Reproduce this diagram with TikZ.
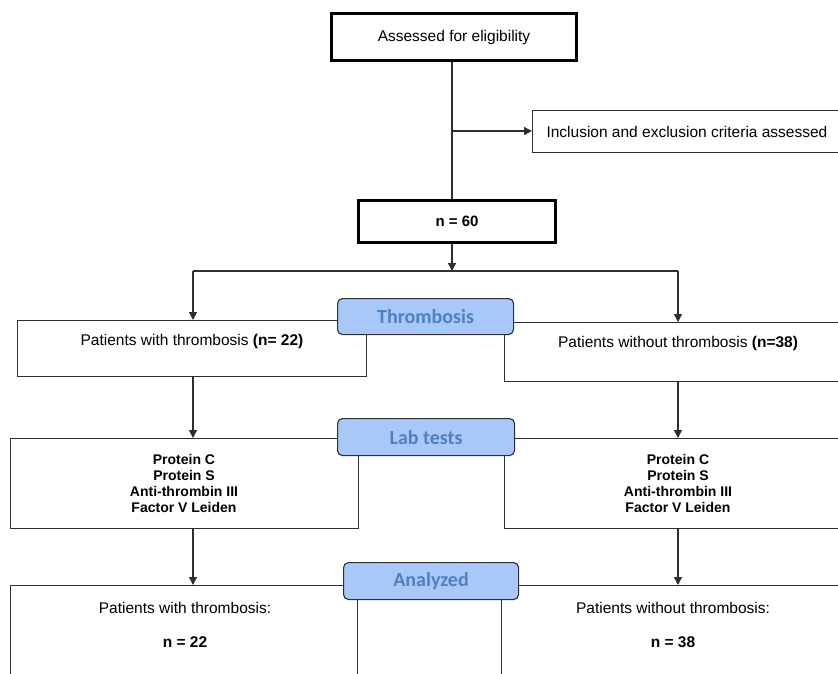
\documentclass[tikz,border=0pt]{standalone}
\usepackage{fontspec}
\setmainfont{Liberation Sans}
\newfontfamily\tagfont{Carlito}
\usetikzlibrary{arrows.meta}

\definecolor{tagfill}{HTML}{A9C8FA}
\definecolor{tagtext}{HTML}{4F81BD}
\definecolor{edge}{HTML}{2E2E2E}

\begin{document}
\begin{tikzpicture}[x=1pt, y=-1pt,
  box/.style={draw=edge, line width=1.3pt, fill=white, inner sep=0pt, anchor=north west},
  heavybox/.style={box, draw=black, line width=3pt},
  tag/.style={draw=edge, line width=1.1pt, rounded corners=5pt, fill=tagfill, text=tagtext,
    font=\tagfont\bfseries\fontsize{20}{24}\selectfont, inner sep=0pt, anchor=north west},
  txt/.style={font=\fontsize{15.5}{18}\selectfont, align=center},
  tests/.style={font=\bfseries\fontsize{14}{16}\selectfont, align=center},
  link/.style={draw=edge, line width=1.3pt},
  arr/.style={link, -{Triangle[length=8pt,width=8pt]}}]

\clip (0,0) rectangle (838,673);

% boxes
\node[heavybox, minimum width=245, minimum height=47] (elig) at (330,12) {};
\node[box, minimum width=340, minimum height=42] (crit) at (532,110) {};
\node[heavybox, minimum width=197, minimum height=42] (n60) at (357,199) {};

\node[box, minimum width=349, minimum height=56] (thrL) at (17,320) {};
\node[box, minimum width=400, minimum height=59] (thrR) at (504,322) {};

\node[box, minimum width=348, minimum height=90] (labL) at (10,438) {};
\node[box, minimum width=400, minimum height=90] (labR) at (504,438) {};

\node[box, minimum width=347, minimum height=120] (resL) at (10,585) {};
\node[box, minimum width=400, minimum height=120] (resR) at (501,585) {};

% texts
\node[txt] (eligtxt) at (elig.center) {Assessed for eligibility};
\node[txt, anchor=west] (crittxt) at ([xshift=11pt]crit.west) {Inclusion and exclusion criteria assessed};
\node[txt, font=\bfseries\fontsize{15}{18}\selectfont] (n60txt) at (n60.center) {n = 60};

\node[txt] (thrLtxt) at (192,341) {Patients with thrombosis \textbf{(n= 22)}};
\node[txt] (thrRtxt) at (678,343) {Patients without thrombosis \textbf{(n=38)}};

\node[tests] (labLtxt) at (184,483) {Protein C\\Protein S\\Anti-thrombin III\\Factor V Leiden};
\node[tests] (labRtxt) at (678,483) {Protein C\\Protein S\\Anti-thrombin III\\Factor V Leiden};

\node[txt] (resLtxt) at (185,625) {Patients with thrombosis:\\[16pt]\textbf{n = 22}};
\node[txt] (resRtxt) at (673,625) {Patients without thrombosis:\\[16pt]\textbf{n = 38}};

% tags
\node[tag, minimum width=176, minimum height=36] (thrtag) at (337,298) {Thrombosis};
\node[tag, minimum width=177, minimum height=37] (labtag) at (337,418) {Lab tests};
\node[tag, minimum width=175, minimum height=37] (anatag) at (343,562) {Analyzed};

% connectors
\coordinate (split) at (452,131);
\coordinate (fork) at (452,271);
\coordinate (forkL) at (193,271);
\coordinate (forkR) at (678,271);

\draw[link] (elig.south -| split) -- (n60.north -| split);
\draw[arr] (split) -- (crit.west |- split);
\draw[arr] (n60.south -| fork) -- (fork);
\draw[link] (forkL) -- (forkR);

\draw[arr] (forkL) -- (thrL.north -| forkL);
\draw[arr] (forkR) -- (thrR.north -| forkR);

\draw[arr] (thrL.south -| forkL) -- (labL.north -| forkL);
\draw[arr] (thrR.south -| forkR) -- (labR.north -| forkR);

\draw[arr] (labL.south -| forkL) -- (resL.north -| forkL);
\draw[arr] (labR.south -| forkR) -- (resR.north -| forkR);

\end{tikzpicture}
\end{document}
